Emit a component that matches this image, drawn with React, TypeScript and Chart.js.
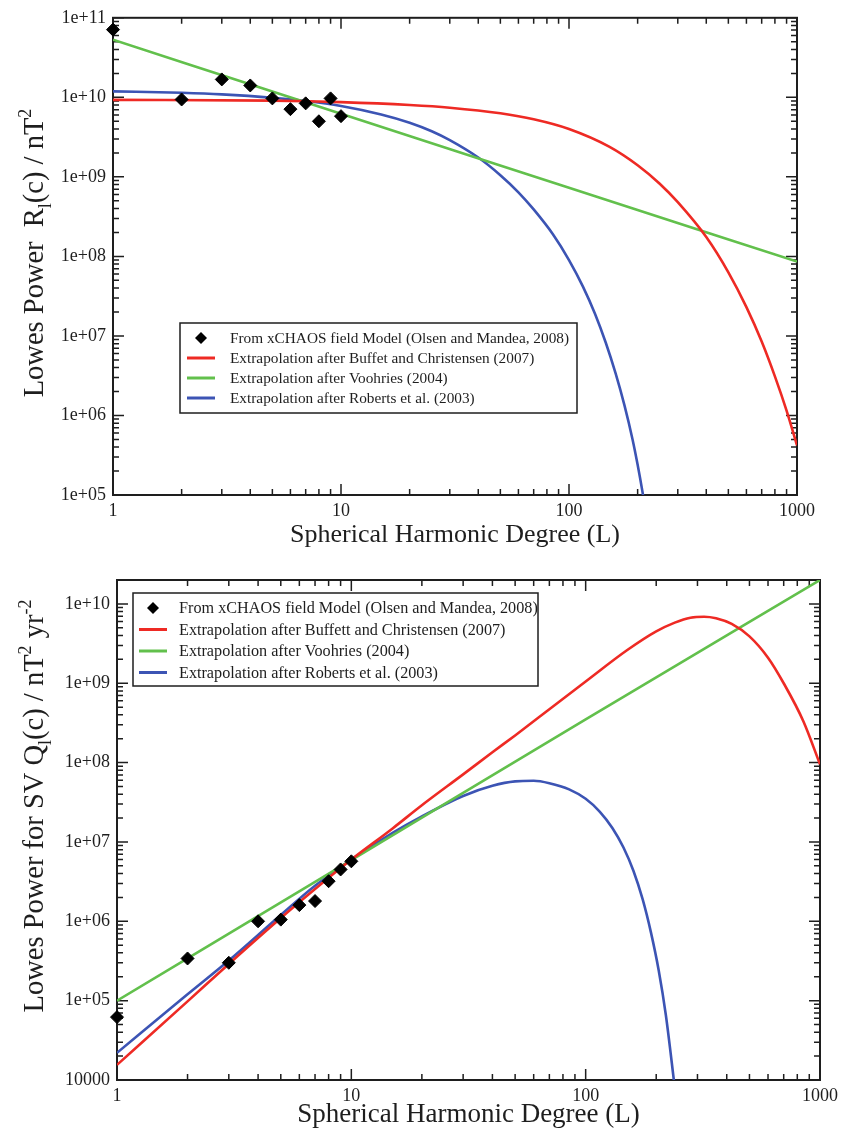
import React, { useEffect, useRef } from 'react';
import { Chart, registerables } from 'chart.js';

Chart.register(...registerables);

const FONT = '"Liberation Serif", "Times New Roman", serif';
const INK = '#1e1e1e';
const RED = '#ee2a24';
const GREEN = '#62c04c';
const BLUE = '#3c54b4';

// ---------- shared x axis ----------
const xTickValues = [1, 10, 100, 1000];
const xTickLabels = ['1', '10', '100', '1000'];
const xTitle = 'Spherical Harmonic Degree (L)';

const legendLabelsTop = [
  'From xCHAOS field Model (Olsen and Mandea, 2008)',
  'Extrapolation after Buffet and Christensen (2007)',
  'Extrapolation after Voohries (2004)',
  'Extrapolation after Roberts et al. (2003)',
];
const legendLabelsBottom = [
  'From xCHAOS field Model (Olsen and Mandea, 2008)',
  'Extrapolation after Buffett and Christensen (2007)',
  'Extrapolation after Voohries (2004)',
  'Extrapolation after Roberts et al. (2003)',
];

// ---------- top panel: main field power R_l ----------
const topYTickValues = [1e5, 1e6, 1e7, 1e8, 1e9, 1e10, 1e11];
const topYTickLabels = ['1e+05', '1e+06', '1e+07', '1e+08', '1e+09', '1e+10', '1e+11'];
const topYTitle = [
  { t: 'Lowes Power  R' },
  { t: 'l', sub: true },
  { t: '(c) / nT' },
  { t: '2', sup: true },
];

const topDegrees = [1, 2, 3, 4, 5, 6, 7, 8, 9, 10];
const topObserved = [7.1e10, 9.4e9, 1.68e10, 1.41e10, 9.7e9, 7.1e9, 8.4e9, 5.0e9, 9.7e9, 5.8e9];

const topBuffettL = [1, 5, 10, 20, 30, 50, 70, 100, 150, 200, 250, 300, 400, 500, 600, 700, 800, 900, 1000];
const topBuffett = [9.3e9, 9.1e9, 8.7e9, 8.0e9, 7.4e9, 6.3e9, 5.3e9, 4.0e9, 2.4e9, 1.4e9, 8.2e8, 4.8e8, 1.75e8, 6.3e7, 2.3e7, 8.5e6, 3.1e6, 1.15e6, 4.2e5];

const topVoorhiesL = [1, 10, 100, 1000];
const topVoorhies = [5.3e10, 6.2e9, 7.3e8, 8.6e7];

const topRobertsL = [1, 2, 3, 5, 7, 10, 15, 20, 25, 30, 40, 50, 60, 70, 85, 100, 115, 130, 145, 160, 175, 190, 200, 210, 225];
const topRoberts = [1.19e10, 1.14e10, 1.09e10, 9.9e9, 9.0e9, 7.8e9, 6.1e9, 4.8e9, 3.75e9, 2.9e9, 1.75e9, 1.05e9, 6.4e8, 3.9e8, 1.9e8, 9.0e7, 4.2e7, 1.9e7, 8.2e6, 3.4e6, 1.35e6, 5.0e5, 2.4e5, 1.1e5, 3.2e4];

// ---------- bottom panel: secular variation power Q_l ----------
const botYTickValues = [1e4, 1e5, 1e6, 1e7, 1e8, 1e9, 1e10];
const botYTickLabels = ['10000', '1e+05', '1e+06', '1e+07', '1e+08', '1e+09', '1e+10'];
const botYTitle = [
  { t: 'Lowes Power for SV Q' },
  { t: 'l', sub: true },
  { t: '(c) / nT' },
  { t: '2', sup: true },
  { t: ' yr' },
  { t: '-2', sup: true },
];

const botDegrees = [1, 2, 3, 4, 5, 6, 7, 8, 9, 10];
const botObserved = [6.2e4, 3.4e5, 3.0e5, 1.0e6, 1.05e6, 1.6e6, 1.8e6, 3.2e6, 4.5e6, 5.7e6];

const botBuffettL = [1, 2, 3, 5, 7, 10, 15, 20, 30, 40, 50, 70, 100, 150, 200, 240, 280, 320, 360, 420, 500, 600, 700, 850, 1000];
const botBuffett = [1.55e4, 9.8e4, 2.9e5, 1.1e6, 2.55e6, 6.0e6, 1.48e7, 2.9e7, 7.1e7, 1.35e8, 2.2e8, 4.7e8, 1.05e9, 2.6e9, 4.5e9, 5.8e9, 6.7e9, 6.9e9, 6.6e9, 5.6e9, 3.9e9, 2.1e9, 1.0e9, 3.3e8, 9.5e7];

const botVoorhiesL = [1, 10, 100, 1000];
const botVoorhies = [1.0e5, 5.9e6, 3.5e8, 2.0e10];

const botRobertsL = [1, 2, 3, 5, 7, 10, 15, 20, 30, 40, 50, 60, 70, 85, 100, 115, 130, 145, 160, 175, 190, 205, 220, 240];
const botRoberts = [2.2e4, 1.2e5, 3.2e5, 1.2e6, 2.8e6, 6.0e6, 1.3e7, 2.1e7, 3.8e7, 5.1e7, 5.8e7, 5.9e7, 5.5e7, 4.6e7, 3.5e7, 2.4e7, 1.5e7, 8.5e6, 4.3e6, 1.9e6, 7.2e5, 2.4e5, 6.5e4, 8.0e3];

// ---------- helpers ----------
function minorTicks(lo: number, hi: number): number[] {
  const out: number[] = [];
  for (let e = Math.floor(Math.log10(lo)); e <= Math.ceil(Math.log10(hi)); e++) {
    for (let k = 2; k <= 9; k++) {
      const v = k * Math.pow(10, e);
      if (v > lo && v < hi) out.push(v);
    }
  }
  return out;
}

function pts(xs: number[], ys: number[]) {
  return xs.map((x, i) => ({ x, y: ys[i] }));
}

const decorPlugin = {
  id: 'decor',
  beforeDatasetsDraw(chart: any, _a: any, opts: any) {
    const { ctx, chartArea: a } = chart;
    const xs = chart.scales.x;
    const ys = chart.scales.y;
    ctx.save();
    ctx.strokeStyle = INK;
    ctx.lineWidth = 1.5;
    const xTick = (v: number, len: number) => {
      const p = xs.getPixelForValue(v);
      ctx.beginPath();
      ctx.moveTo(p, a.bottom); ctx.lineTo(p, a.bottom - len);
      ctx.moveTo(p, a.top); ctx.lineTo(p, a.top + len);
      ctx.stroke();
    };
    const yTick = (v: number, len: number) => {
      const p = ys.getPixelForValue(v);
      ctx.beginPath();
      ctx.moveTo(a.left, p); ctx.lineTo(a.left + len, p);
      ctx.moveTo(a.right, p); ctx.lineTo(a.right - len, p);
      ctx.stroke();
    };
    xTickValues.forEach((v) => xTick(v, 11));
    minorTicks(xs.min, xs.max).forEach((v) => xTick(v, 6));
    opts.yMajor.forEach((v: number) => yTick(v, 11));
    minorTicks(ys.min, ys.max).forEach((v) => yTick(v, 6));
    ctx.lineWidth = 2;
    ctx.strokeRect(a.left, a.top, a.width, a.height);
    ctx.restore();
  },
  afterDatasetsDraw(chart: any, _a: any, opts: any) {
    const { ctx } = chart;
    // legend box
    const L = opts.legend;
    ctx.save();
    ctx.fillStyle = '#ffffff';
    ctx.fillRect(L.x, L.y, L.w, L.h);
    ctx.strokeStyle = INK;
    ctx.lineWidth = 1.5;
    ctx.strokeRect(L.x, L.y, L.w, L.h);
    ctx.font = `${L.size}px ${FONT}`;
    ctx.textBaseline = 'middle';
    ctx.textAlign = 'left';
    chart.data.datasets.forEach((ds: any, i: number) => {
      const cy = L.y + L.first + i * L.row;
      if (ds.showLine === false) {
        const r = 6;
        ctx.fillStyle = '#000';
        ctx.beginPath();
        ctx.moveTo(L.mx, cy - r); ctx.lineTo(L.mx + r, cy); ctx.lineTo(L.mx, cy + r); ctx.lineTo(L.mx - r, cy);
        ctx.closePath();
        ctx.fill();
      } else {
        ctx.strokeStyle = ds.borderColor;
        ctx.lineWidth = 3;
        ctx.beginPath();
        ctx.moveTo(L.mx - 14, cy); ctx.lineTo(L.mx + 14, cy);
        ctx.stroke();
      }
      ctx.fillStyle = INK;
      ctx.fillText(ds.label, L.tx, cy + 1);
    });
    ctx.restore();

    // rotated y title with sub/superscripts
    const T = opts.yTitle;
    ctx.save();
    ctx.translate(T.x, T.y);
    ctx.rotate(-Math.PI / 2);
    ctx.fillStyle = INK;
    ctx.textBaseline = 'alphabetic';
    ctx.textAlign = 'left';
    const fontOf = (s: any) => `${s.sub || s.sup ? Math.round(T.size * 0.62) : T.size}px ${FONT}`;
    const widths = T.segs.map((s: any) => { ctx.font = fontOf(s); return ctx.measureText(s.t).width; });
    const total = widths.reduce((p: number, q: number) => p + q, 0);
    let x = -total / 2;
    T.segs.forEach((s: any, i: number) => {
      ctx.font = fontOf(s);
      const dy = s.sub ? T.size * 0.28 : s.sup ? -T.size * 0.42 : 0;
      ctx.fillText(s.t, x, dy);
      x += widths[i];
    });
    ctx.restore();
  },
};

function makeConfig(p: any) {
  const lineDs = (label: string, color: string, data: any[]) => ({
    label,
    data,
    borderColor: color,
    backgroundColor: color,
    borderWidth: 2.6,
    pointRadius: 0,
    cubicInterpolationMode: 'monotone',
    fill: false,
  });
  return {
    type: 'line',
    data: {
      datasets: [
        {
          label: p.labels[0],
          data: p.observed,
          showLine: false,
          pointStyle: 'rectRot',
          pointRadius: 6.5,
          pointBackgroundColor: '#000',
          pointBorderColor: '#000',
          borderColor: '#000',
          backgroundColor: '#000',
          clip: false,
        },
        lineDs(p.labels[1], RED, p.buffett),
        lineDs(p.labels[2], GREEN, p.voorhies),
        lineDs(p.labels[3], BLUE, p.roberts),
      ],
    },
    options: {
      responsive: false,
      animation: false,
      events: [],
      layout: { padding: p.padding },
      plugins: {
        legend: { display: false },
        tooltip: { enabled: false },
        decor: { yMajor: p.yTicks, legend: p.legend, yTitle: p.yTitle },
      },
      scales: {
        x: {
          type: 'logarithmic',
          min: 1,
          max: 1000,
          grid: { display: false, drawTicks: false },
          border: { display: false },
          afterBuildTicks: (s: any) => { s.ticks = xTickValues.map((v) => ({ value: v })); },
          afterFit: (s: any) => { s.height = p.xAxisH; },
          ticks: {
            autoSkip: false,
            maxRotation: 0,
            padding: p.xTickPad,
            color: INK,
            font: { family: FONT, size: 18 },
            callback: (v: number) => { const i = xTickValues.indexOf(v); return i >= 0 ? xTickLabels[i] : ''; },
          },
          title: {
            display: true,
            text: xTitle,
            color: INK,
            font: { family: FONT, size: p.xTitleSize },
            padding: { top: 0, bottom: p.xTitlePad },
          },
        },
        y: {
          type: 'logarithmic',
          min: p.yTicks[0],
          max: p.yMax,
          grid: { display: false, drawTicks: false },
          border: { display: false },
          afterBuildTicks: (s: any) => { s.ticks = p.yTicks.map((v: number) => ({ value: v })); },
          afterFit: (s: any) => { s.width = p.yAxisW; },
          ticks: {
            autoSkip: false,
            padding: 7,
            color: INK,
            font: { family: FONT, size: 18 },
            callback: (v: number) => { const i = p.yTicks.indexOf(v); return i >= 0 ? p.yLabels[i] : ''; },
          },
        },
      },
    },
    plugins: [decorPlugin],
  };
}

export default function App() {
  const topRef = useRef<HTMLCanvasElement>(null);
  const botRef = useRef<HTMLCanvasElement>(null);

  useEffect(() => {
    const top = new Chart(topRef.current as HTMLCanvasElement, makeConfig({
      labels: legendLabelsTop,
      observed: pts(topDegrees, topObserved),
      buffett: pts(topBuffettL, topBuffett),
      voorhies: pts(topVoorhiesL, topVoorhies),
      roberts: pts(topRobertsL, topRoberts),
      yTicks: topYTickValues,
      yLabels: topYTickLabels,
      yMax: 1e11,
      padding: { top: 16, right: 46, bottom: 0, left: 0 },
      xAxisH: 65,
      yAxisW: 113,
      xTickPad: 5,
      xTitleSize: 26,
      xTitlePad: 9,
      legend: { x: 180, y: 323, w: 397, h: 90, first: 15, row: 20, mx: 201, tx: 230, size: 15.3 },
      yTitle: { segs: topYTitle, x: 43, y: 253, size: 28.5 },
    }) as any);
    const bot = new Chart(botRef.current as HTMLCanvasElement, makeConfig({
      labels: legendLabelsBottom,
      observed: pts(botDegrees, botObserved),
      buffett: pts(botBuffettL, botBuffett),
      voorhies: pts(botVoorhiesL, botVoorhies),
      roberts: pts(botRobertsL, botRoberts),
      yTicks: botYTickValues,
      yLabels: botYTickLabels,
      yMax: 2e10,
      padding: { top: 20, right: 21, bottom: 0, left: 0 },
      xAxisH: 51,
      yAxisW: 117,
      xTickPad: 5,
      xTitleSize: 27,
      xTitlePad: 0,
      legend: { x: 133, y: 33, w: 405, h: 93, first: 15, row: 21.5, mx: 153, tx: 179, size: 16.2 },
      yTitle: { segs: botYTitle, x: 43, y: 246, size: 28.5 },
    }) as any);
    return () => { top.destroy(); bot.destroy(); };
  }, []);

  return (
    <div style={{ position: 'absolute', left: 0, top: 0, width: 843, height: 1131, background: '#ffffff' }}>
      <canvas ref={topRef} width={843} height={560} style={{ display: 'block', width: 843, height: 560 }} />
      <canvas ref={botRef} width={843} height={571} style={{ display: 'block', width: 843, height: 571 }} />
    </div>
  );
}
